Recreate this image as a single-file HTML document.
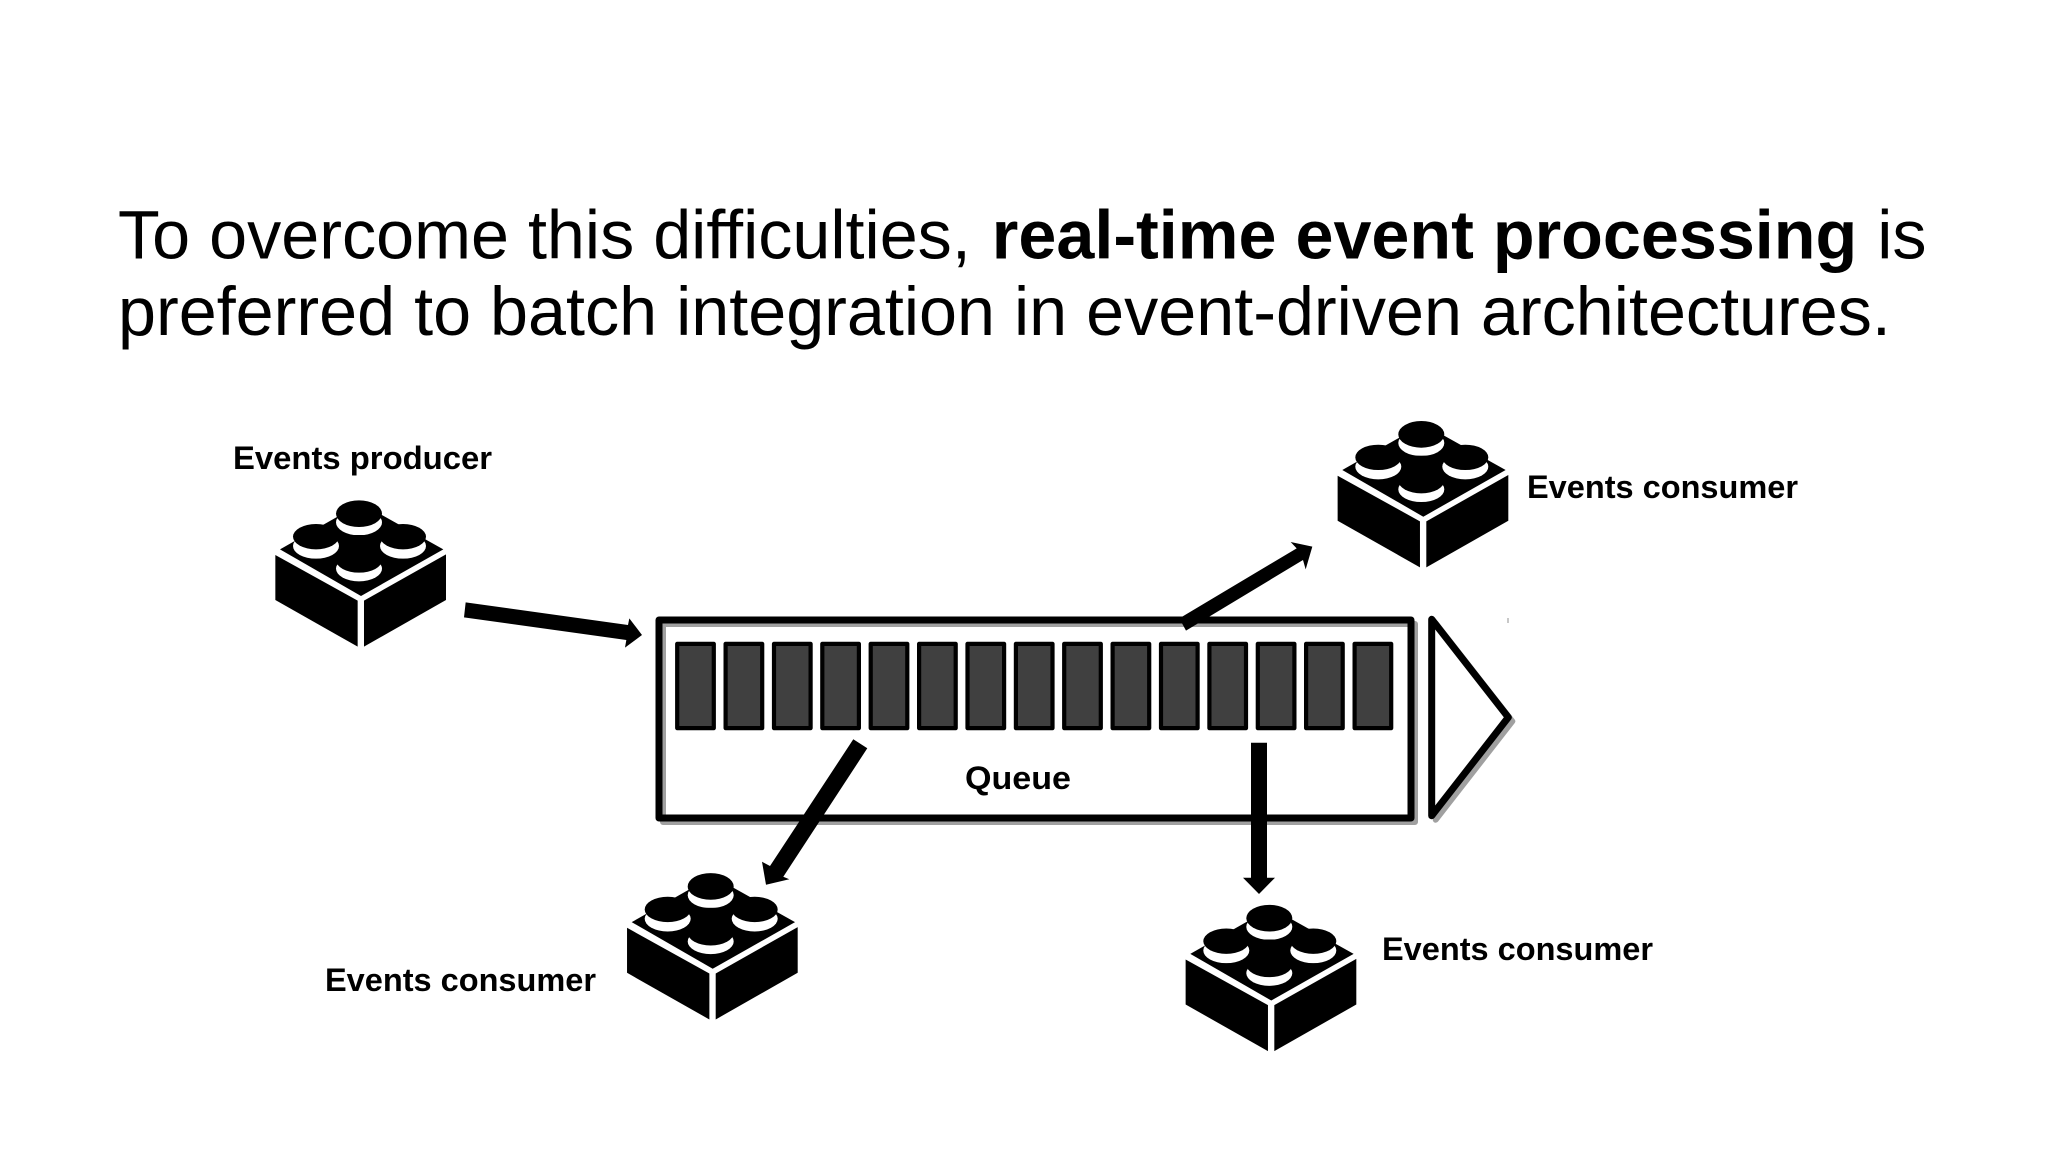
<!DOCTYPE html>
<html>
<head>
<meta charset="utf-8">
<style>
html,body{margin:0;padding:0;background:#fff;width:2048px;height:1152px;overflow:hidden}
svg{display:block}
.t{font-family:"Liberation Sans",sans-serif;font-size:68.3px;fill:#000}
.l{font-family:"Liberation Sans",sans-serif;font-weight:bold;font-size:32px;fill:#000}
</style>
</head>
<body>
<svg width="2048" height="1152" viewBox="0 0 2048 1152" xmlns="http://www.w3.org/2000/svg">
<defs>
<g id="brick">
  <g transform="translate(220 420) scale(.33333)">
    <polygon points="166,405 413,542 413,680 166,540" fill="#000"/>
    <polygon points="432,542 678,403 678,540 432,680" fill="#000"/>
    <polygon points="180,388 423,250 670,388 423,528" fill="#000"/>
    <ellipse cx="417" cy="307" rx="69" ry="39" fill="#fff"/>
    <ellipse cx="417" cy="281" rx="69" ry="40" fill="#000"/>
    <rect x="360" y="345" width="116" height="75" fill="#000"/>
    <ellipse cx="288" cy="378" rx="69" ry="38" fill="#fff"/>
    <ellipse cx="288" cy="350" rx="69" ry="38" fill="#000"/>
    <ellipse cx="549" cy="378" rx="69" ry="38" fill="#fff"/>
    <ellipse cx="549" cy="350" rx="69" ry="38" fill="#000"/>
    <ellipse cx="417" cy="446" rx="69" ry="38" fill="#fff"/>
    <ellipse cx="417" cy="420" rx="69" ry="38" fill="#000"/>
  </g>
</g>
</defs>

<text class="t" x="118" y="258.3">To overcome this difficulties, <tspan font-weight="bold" dx="2">real-time event processing</tspan><tspan dx="1"> is</tspan></text>
<text class="t" x="118" y="335">preferred to batch integration in event-driven architectures.</text>

<!-- queue -->
<rect x="663" y="624" width="752" height="198" fill="none" stroke="#a0a0a0" stroke-width="6" stroke-linejoin="round"/>
<rect x="659" y="620" width="752" height="198" fill="none" stroke="#000" stroke-width="7" stroke-linejoin="round"/>
<g fill="#404040" stroke="#000" stroke-width="4.2" stroke-linejoin="round">
  <rect x="677.2" y="643.9" width="36.6" height="84.2"/>
  <rect x="725.6" y="643.9" width="36.6" height="84.2"/>
  <rect x="774" y="643.9" width="36.6" height="84.2"/>
  <rect x="822.3" y="643.9" width="36.6" height="84.2"/>
  <rect x="870.7" y="643.9" width="36.6" height="84.2"/>
  <rect x="919.1" y="643.9" width="36.6" height="84.2"/>
  <rect x="967.5" y="643.9" width="36.6" height="84.2"/>
  <rect x="1015.9" y="643.9" width="36.6" height="84.2"/>
  <rect x="1064.2" y="643.9" width="36.6" height="84.2"/>
  <rect x="1112.6" y="643.9" width="36.6" height="84.2"/>
  <rect x="1161" y="643.9" width="36.6" height="84.2"/>
  <rect x="1209.4" y="643.9" width="36.6" height="84.2"/>
  <rect x="1257.8" y="643.9" width="36.6" height="84.2"/>
  <rect x="1306.1" y="643.9" width="36.6" height="84.2"/>
  <rect x="1354.6" y="643.9" width="36.6" height="84.2"/>
</g>
<polygon points="1435.7,623.3 1512.3,721.3 1435.7,819.7" fill="none" stroke="#a0a0a0" stroke-width="6" stroke-linejoin="round"/>
<polygon points="1431.7,619.3 1508.3,717.3 1431.7,815.7" fill="#fff" stroke="#000" stroke-width="7" stroke-linejoin="round"/>
<rect x="1507" y="618" width="2" height="5" fill="#c8c8c8"/>

<!-- arrows -->
<g fill="#000">
  <g transform="translate(220 420) scale(.33333)">
    <polygon points="737,547 1224,615 1228,595 1266,645 1215,683 1219,660 732,592"/>
  </g>
  <g transform="translate(1140 410) scale(.33333)">
    <polygon points="118,625 470,415 452,396 517,410 497,478 489,450 138,662"/>
  </g>
  <polygon points="853.3,739.3 867.3,748.3 783.3,876.7 789.3,879.3 766,884.7 762,861.7 770,866"/>
  <polygon points="1251,742.7 1267,742.7 1267,877.7 1275,877.7 1259,894 1243,877.7 1251,877.7"/>
</g>

<!-- bricks -->
<use href="#brick"/>
<use href="#brick" transform="translate(1062.3 -79.3)"/>
<use href="#brick" transform="translate(351.7 372.8)"/>
<use href="#brick" transform="translate(910.3 404.5)"/>

<!-- labels -->
<text class="l" x="233" y="469" textLength="259" lengthAdjust="spacingAndGlyphs">Events producer</text>
<text class="l" x="1527" y="498" textLength="271" lengthAdjust="spacingAndGlyphs">Events consumer</text>
<text class="l" x="325" y="991" textLength="271" lengthAdjust="spacingAndGlyphs">Events consumer</text>
<text class="l" x="1382" y="960" textLength="271" lengthAdjust="spacingAndGlyphs">Events consumer</text>
<text class="l" x="965" y="789" textLength="106" lengthAdjust="spacingAndGlyphs">Queue</text>
</svg>
</body>
</html>
